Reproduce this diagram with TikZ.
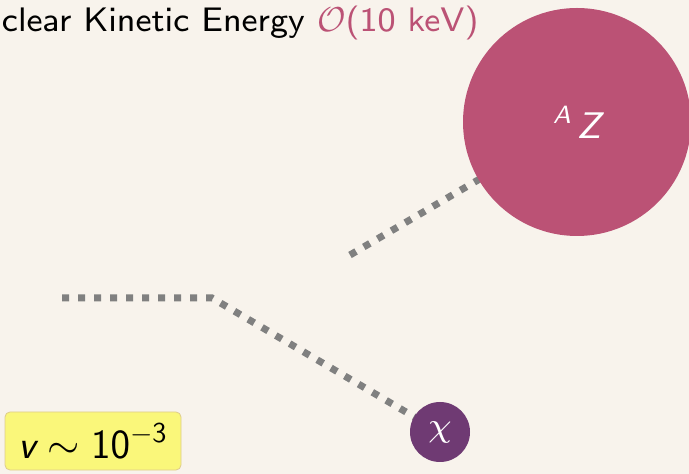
\documentclass[tikz,border=0pt]{standalone}
\usepackage{amsmath}
\usetikzlibrary{backgrounds}
\definecolor{bgcream}{RGB}{248,243,236}
\definecolor{nucpink}{RGB}{187,82,117}
\definecolor{dmpurple}{RGB}{111,58,115}
\definecolor{boxyellow}{RGB}{250,247,122}
\definecolor{boxedge}{RGB}{222,204,140}
\definecolor{trackgray}{RGB}{128,128,128}
\font\ttlfont=cmss8 at 17pt
\font\chifont=cmmi7 at 17pt
\font\nucfont=cmssi8 at 18.5pt
\font\massfont=cmssi8 at 12.5pt
\begin{document}
\begin{tikzpicture}[x=.5pt,y=-.5pt,
  track/.style={draw=trackgray,line width=3.5pt,dash pattern=on 3.5pt off 4.5pt},
  ball/.style={circle,inner sep=0pt,text=white}]
\useasboundingbox (0,0) rectangle (689,474);
% particles
\node[ball,fill=nucpink,minimum size=114pt] (nuc) at (577,122)
  {\raisebox{7.5pt}{\massfont A}\hspace{3pt}{\nucfont Z}};
\node[ball,fill=dmpurple,minimum size=30pt] (chi) at (440,432) {\chifont\char"1F};
\coordinate (inc) at (62,298); \coordinate (kink) at (212,298);
\coordinate (rec) at (350,255);
\begin{scope}[on background layer]
\fill[bgcream] (0,0) rectangle (689,474);
\draw[track] (inc) -- (kink) -- (chi.center);
\draw[track] (rec) -- (nuc.center);
\end{scope}
% labels
\node[anchor=base east,inner sep=0pt,font=\fontsize{17}{20}\selectfont\ttlfont] (title) at (479,31.5)
  {Nuclear Kinetic Energy \textcolor{nucpink}{$\mathcal{O}$\ttlfont(10 keV)}};
\node[draw=boxedge,fill=boxyellow,rounded corners=2.5pt,minimum width=88pt,minimum height=29pt,
  font=\fontsize{20}{22}\selectfont] (vel) at (93,441)
  {$\textsf{\itshape v}\sim\mathsf{10}^{-\mathsf{3}}$};
\end{tikzpicture}
\end{document}
